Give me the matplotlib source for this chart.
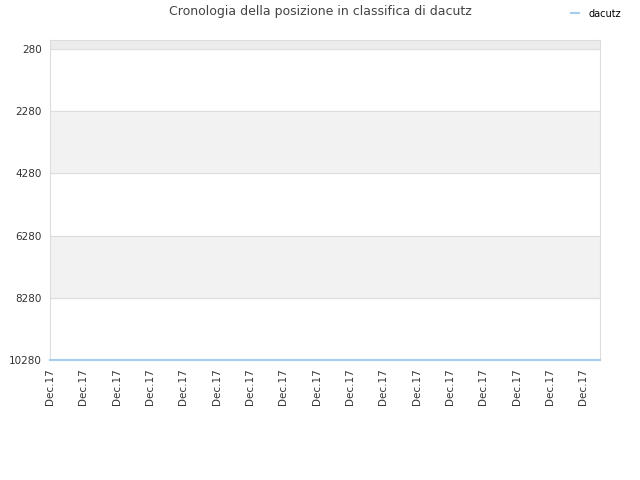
import matplotlib.pyplot as plt

# data
labels = ["Dec.17"] * 17
ranks = [10280] * 17
yticks = [280, 2280, 4280, 6280, 8280, 10280]

fig = plt.figure(figsize=(6.4, 4.8), dpi=100)
ax = fig.add_axes([50 / 640, 1 - 360 / 480, 550 / 640, 320 / 480])

x = list(range(len(ranks)))
ax.set_xlim(0, 16.5)
ax.set_ylim(10280, -10)

# alternating bands
ax.axhspan(-10, 280, color="#ececec", zorder=0)
for i in range(len(yticks) - 1):
    if i % 2 == 1:
        ax.axhspan(yticks[i], yticks[i + 1], color="#f2f2f2", zorder=0)
for t in yticks:
    ax.axhline(t, color="#dddddd", lw=0.8, zorder=1)

ax.plot([0, 16.5], [ranks[0], ranks[-1]], color="#a6cdee", lw=1.5, zorder=3, clip_on=False,
        label="dacutz")

ax.set_yticks(yticks)
ax.set_yticklabels([str(t) for t in yticks], fontsize=7.5, color="#333333")
ax.set_xticks(x)
ax.set_xticklabels(labels, rotation=90, fontsize=7.5, color="#333333")
ax.tick_params(length=0, pad=6)

for s in ["left", "right", "top"]:
    ax.spines[s].set_color("#dddddd")
    ax.spines[s].set_linewidth(0.8)
ax.spines["bottom"].set_visible(False)

fig.text(0.5, 1 - 12 / 480, "Cronologia della posizione in classifica di dacutz",
         ha="center", va="center", fontsize=9, color="#444444")
fig.legend(loc="upper right", bbox_to_anchor=(0.984, 1.0), frameon=False, fontsize=7,
           handlelength=0.8, handletextpad=1.0)

fig.savefig("out.png", dpi=100)
